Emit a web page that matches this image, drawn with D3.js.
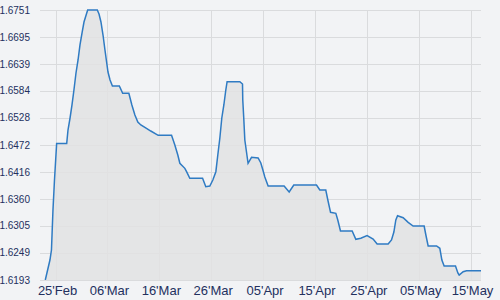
<!DOCTYPE html>
<html>
<head>
<meta charset="utf-8">
<script src="https://cdn.jsdelivr.net/npm/d3@7"></script>
<style>
  html, body { margin: 0; padding: 0; background: #f2f3f5; }
  svg { display: block; }
  .ylab { font-family: "Liberation Sans", Arial, sans-serif; font-size: 10px; fill: #23305e; }
  .xlab { font-family: "Liberation Sans", Arial, sans-serif; font-size: 13px; fill: #23305e; }
</style>
</head>
<body>
<div id="chart"></div>
<script>
// Times of the samples
const dates = [
  "2024-02-23T00:30", "2024-02-23T08:00", "2024-02-23T22:00", "2024-02-24T05:00",
  "2024-02-24T12:00", "2024-02-24T19:00", "2024-02-25T05:00", "2024-02-27T03:30",
  "2024-02-27T09:30", "2024-02-27T19:00", "2024-02-28T04:00", "2024-02-28T13:00",
  "2024-02-28T22:30", "2024-02-29T08:00", "2024-02-29T17:00", "2024-03-01T02:30",
  "2024-03-01T11:30", "2024-03-02T04:30", "2024-03-04T01:00", "2024-03-04T09:00",
  "2024-03-04T18:00", "2024-03-05T03:30", "2024-03-05T12:30", "2024-03-05T22:00",
  "2024-03-06T02:30", "2024-03-06T12:00", "2024-03-06T23:00", "2024-03-08T07:00",
  "2024-03-08T22:30", "2024-03-10T03:00", "2024-03-10T17:00", "2024-03-11T07:00",
  "2024-03-11T20:30", "2024-03-12T10:30", "2024-03-13T12:30", "2024-03-14T08:30",
  "2024-03-15T18:30", "2024-03-18T08:30", "2024-03-18T23:45", "2024-03-19T13:30",
  "2024-03-19T23:00", "2024-03-20T22:00", "2024-03-21T06:00", "2024-03-21T21:00",
  "2024-03-24T08:00", "2024-03-24T23:00", "2024-03-25T17:30", "2024-03-26T07:30",
  "2024-03-26T21:30", "2024-03-27T06:30", "2024-03-27T16:00", "2024-03-28T01:00",
  "2024-03-28T10:30", "2024-03-28T19:30", "2024-03-29T01:30", "2024-03-31T12:30",
  "2024-04-01T00:45", "2024-04-01T02:00", "2024-04-01T07:00", "2024-04-01T11:30",
  "2024-04-02T02:30", "2024-04-02T18:30", "2024-04-04T01:00", "2024-04-04T13:30",
  "2024-04-04T23:00", "2024-04-05T08:00", "2024-04-05T23:15", "2024-04-09T01:15",
  "2024-04-10T00:30", "2024-04-10T22:00", "2024-04-15T07:00", "2024-04-15T22:30",
  "2024-04-17T02:00", "2024-04-17T11:30", "2024-04-18T00:00", "2024-04-19T00:30",
  "2024-04-19T09:30", "2024-04-19T22:00", "2024-04-22T04:00", "2024-04-22T21:00",
  "2024-04-23T20:00", "2024-04-25T01:00", "2024-04-26T05:00", "2024-04-26T23:30",
  "2024-04-29T02:30", "2024-04-29T18:00", "2024-04-30T05:00", "2024-04-30T14:00",
  "2024-04-30T22:00", "2024-05-02T00:00", "2024-05-02T23:00", "2024-05-03T22:00",
  "2024-05-06T01:00", "2024-05-06T09:00", "2024-05-06T19:30", "2024-05-08T10:30",
  "2024-05-09T01:30", "2024-05-09T11:00", "2024-05-09T21:30", "2024-05-12T02:00",
  "2024-05-12T13:00", "2024-05-12T19:00", "2024-05-13T13:30", "2024-05-14T05:00",
  "2024-05-17T00:00"
];

// Rate values at those times
const values = [
  1.6193, 1.62075, 1.62343, 1.6255,
  1.63377, 1.63997, 1.6475, 1.6475,
  1.6503, 1.65278, 1.65547, 1.65857,
  1.66208, 1.66477, 1.66787, 1.67035,
  1.67262, 1.6751, 1.6751, 1.67427,
  1.67262, 1.66993, 1.66683, 1.66373,
  1.66229, 1.66063, 1.65939, 1.65939,
  1.65789, 1.65789, 1.65547, 1.6534,
  1.65195, 1.65133, 1.65065, 1.65009,
  1.6492, 1.6492, 1.6472, 1.64513,
  1.64342, 1.64238, 1.64168, 1.64032,
  1.64032, 1.63858, 1.63873, 1.63997,
  1.64168, 1.64513, 1.64865, 1.65278,
  1.65547, 1.65857, 1.66028, 1.66028,
  1.65981, 1.6565, 1.65237, 1.64823,
  1.64342, 1.64466, 1.64451, 1.64348,
  1.64203, 1.64059, 1.63873, 1.63873,
  1.63749, 1.63893, 1.63893, 1.6379,
  1.6379, 1.63583, 1.63329, 1.63308,
  1.6317, 1.62943, 1.62943, 1.62771,
  1.62792, 1.62846, 1.62777, 1.62674,
  1.62674, 1.62757, 1.62922, 1.6317,
  1.63259, 1.63217, 1.63122, 1.63046,
  1.63046, 1.6286, 1.62633, 1.62633,
  1.62585, 1.62343, 1.62219, 1.62219,
  1.62075, 1.62033, 1.62101, 1.62122,
  1.62122
];

// Axis ticks
const xTickDates = ["2024-02-25", "2024-03-06", "2024-03-16", "2024-03-26", "2024-04-05",
                    "2024-04-15", "2024-04-25", "2024-05-05", "2024-05-15"];
const yTicks = [1.6193, 1.6249, 1.6305, 1.6360, 1.6416, 1.6472, 1.6528, 1.6584, 1.6639, 1.6695, 1.6751];
const xDomain = ["2024-02-22", "2024-05-17"];

const width = 500, height = 300;
const margin = { top: 10, right: 19, bottom: 20, left: 40 };

const parseTime = d3.timeParse("%Y-%m-%dT%H:%M");
const parseDay = d3.timeParse("%Y-%m-%d");
const data = dates.map((d, i) => ({ date: parseTime(d), value: values[i] }));

const svg = d3.select("#chart").append("svg")
  .attr("width", width)
  .attr("height", height);

const x = d3.scaleTime()
  .domain(xDomain.map(parseDay))
  .range([margin.left, width - margin.right]);

const y = d3.scaleLinear()
  .domain(d3.extent(yTicks))
  .range([height - margin.bottom, margin.top]);

// horizontal grid lines
svg.append("g")
  .selectAll("line")
  .data(yTicks)
  .join("line")
  .attr("x1", margin.left)
  .attr("x2", width - margin.right)
  .attr("y1", d => Math.round(y(d)) + 0.5)
  .attr("y2", d => Math.round(y(d)) + 0.5)
  .attr("stroke", "#dadbdd");

// vertical grid lines
svg.append("g")
  .selectAll("line")
  .data(xTickDates.map(parseDay))
  .join("line")
  .attr("x1", d => Math.round(x(d)) + 0.5)
  .attr("x2", d => Math.round(x(d)) + 0.5)
  .attr("y1", margin.top)
  .attr("y2", height - margin.bottom)
  .attr("stroke", "#dadbdd");

svg.append("defs").append("clipPath").attr("id", "clip")
  .append("rect")
  .attr("x", margin.left).attr("y", 0)
  .attr("width", width - margin.left - margin.right)
  .attr("height", height - margin.bottom);

// area under the line
svg.append("path")
  .datum(data)
  .attr("clip-path", "url(#clip)")
  .attr("fill", "#e2e2e3")
  .attr("fill-opacity", 0.85)
  .attr("d", d3.area()
    .x(d => x(d.date))
    .y0(height - margin.bottom)
    .y1(d => y(d.value)));

// the line
svg.append("path")
  .datum(data)
  .attr("clip-path", "url(#clip)")
  .attr("fill", "none")
  .attr("stroke", "#2f7bc3")
  .attr("stroke-width", 1.5)
  .attr("d", d3.line()
    .x(d => x(d.date))
    .y(d => y(d.value)));

// y labels
svg.append("g")
  .selectAll("text")
  .data(yTicks)
  .join("text")
  .attr("class", "ylab")
  .attr("x", 30)
  .attr("y", d => y(d))
  .attr("dy", "0.35em")
  .attr("text-anchor", "end")
  .text(d => d3.format(".4f")(d));

// x labels
const fmt = d3.timeFormat("%d'%b");
svg.append("g")
  .selectAll("text")
  .data(xTickDates.map(parseDay))
  .join("text")
  .attr("class", "xlab")
  .attr("x", d => x(d) + 2)
  .attr("y", 295)
  .attr("text-anchor", "middle")
  .text(d => fmt(d));
</script>
</body>
</html>
